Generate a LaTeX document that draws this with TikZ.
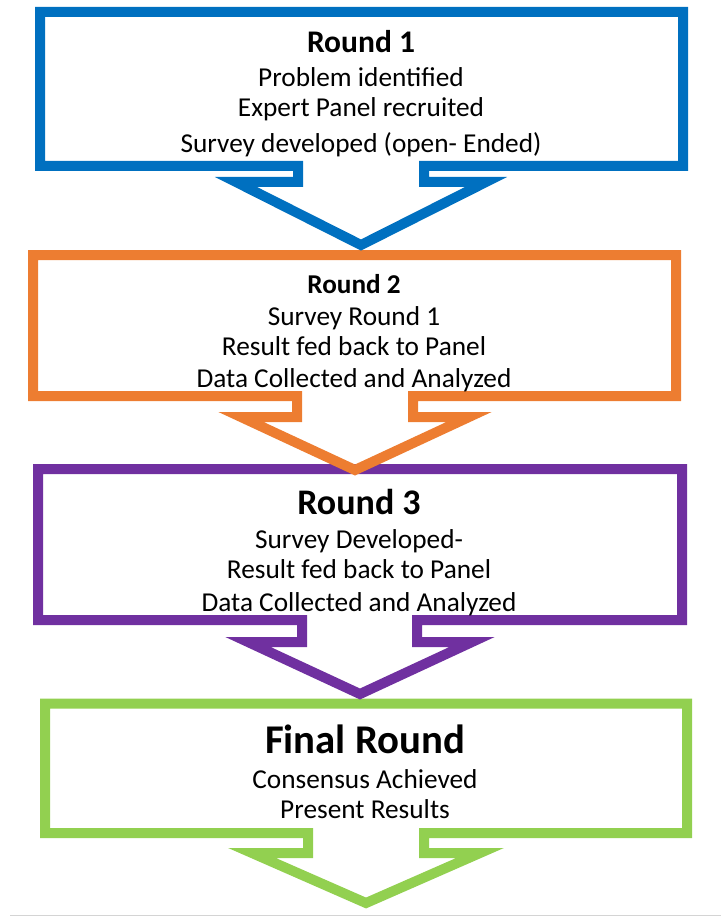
\documentclass[tikz,border=0pt]{standalone}
\usepackage{fontspec}
\setmainfont{Carlito}
\definecolor{cblue}{HTML}{0070C0}
\definecolor{corange}{HTML}{ED7D31}
\definecolor{cpurple}{HTML}{7030A0}
\definecolor{cgreen}{HTML}{92D050}
\definecolor{crule}{HTML}{D4D4D4}
\tikzset{
  callout/.style={line width=10pt, line join=miter, miter limit=10},
  body/.style={anchor=base, inner sep=0pt, text=black, font=\fontsize{27.3pt}{30pt}\selectfont},
  heading/.style={anchor=base, inner sep=0pt, text=black, font=\bfseries\fontsize{#1}{#1}\selectfont}
}
\begin{document}
\begin{tikzpicture}[x=1pt,y=-1pt]
\useasboundingbox (0,0) rectangle (721,917);

% thin rule along the bottom
\draw[crule, line width=1.5pt] (10,915.5) -- (721,915.5);

% down-arrow callouts, lowest first so each arrow tip sits over the box below
\draw[callout, draw=cgreen] (45,703.5) -- (687,703.5) -- (687,833) -- (424,833) -- (424,853)
  -- (480,853) -- (366,903) -- (252,853) -- (308,853) -- (308,833) -- (45,833) -- cycle;
\draw[callout, draw=cpurple] (38,469) -- (682,469) -- (682,620) -- (417,620) -- (417,642)
  -- (472,642) -- (360,694) -- (248,642) -- (302,642) -- (302,620) -- (38,620) -- cycle;
\draw[callout, draw=corange] (33,255) -- (676,255) -- (676,396) -- (413,396) -- (413,417)
  -- (469,417) -- (355,470) -- (241,417) -- (297,417) -- (297,396) -- (33,396) -- cycle;
\draw[callout, draw=cblue] (40,12) -- (683,12) -- (683,166) -- (424,166) -- (424,182)
  -- (486,182) -- (361,245) -- (236,182) -- (298,182) -- (298,166) -- (40,166) -- cycle;

% Round 1
\node[heading=31.5pt] (r1t) at (361,53) {Round 1};
\node[body] (r1a) at (361,87) {Problem identified};
\node[body] (r1b) at (361,117) {Expert Panel recruited};
\node[body] (r1c) at (361,153) {Survey developed (open- Ended)};

% Round 2
\node[heading=27.2pt] (r2t) at (354,293) {Round 2};
\node[body] (r2a) at (354,325) {Survey Round 1};
\node[body] (r2b) at (354,355) {Result fed back to Panel};
\node[body] (r2c) at (354,387) {Data Collected and Analyzed};

% Round 3
\node[heading=36pt] (r3t) at (359,514) {Round 3};
\node[body] (r3a) at (359,548) {Survey Developed-};
\node[body] (r3b) at (359,578) {Result fed back to Panel};
\node[body] (r3c) at (359,611) {Data Collected and Analyzed};

% Final round
\node[heading=40.8pt] (fnt) at (365,753) {Final Round};
\node[body] (fna) at (365,788) {Consensus Achieved};
\node[body] (fnb) at (365,818) {Present Results};
\end{tikzpicture}
\end{document}
